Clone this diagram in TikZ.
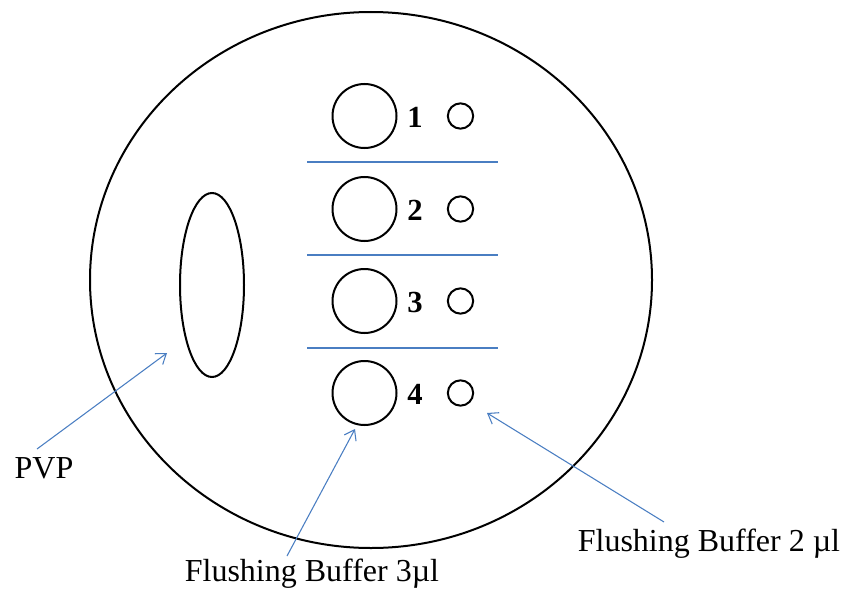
\documentclass[tikz,border=0pt]{standalone}
\usepackage{fontspec}
\setmainfont{Liberation Serif}
\usetikzlibrary{arrows.meta,shapes.geometric}
\definecolor{lineblue}{HTML}{4A7EC2}
\begin{document}
\begin{tikzpicture}[x=0.75pt,y=-0.75pt,
  outline/.style={draw=black,line width=1.5pt},
  well/.style={outline,circle,minimum size=48pt,inner sep=0pt},
  port/.style={outline,circle,minimum size=19pt,inner sep=0pt},
  oval/.style={outline,ellipse,inner sep=0pt},
  num/.style={font=\fontsize{23}{25}\selectfont\bfseries},
  lbl/.style={font=\fontsize{24}{27}\selectfont},
  divider/.style={draw=lineblue,line width=0.8pt},
  pointer/.style={draw=lineblue,line width=0.8pt,-{Straight Barb[length=7pt,width=10pt]}}]
\useasboundingbox (0,0) rectangle (842,592);

% outer disc and PVP reservoir
\node[oval,minimum width=421.5pt,minimum height=402pt] (dish) at (371,280) {};
\node[oval,minimum width=48pt,minimum height=138pt] (pvpres) at (212,285) {};

% four chambers: large well, number, small port
\foreach \i/\y in {1/116,2/209,3/301,4/393}{
  \node[well] (w\i) at (364.5,\y) {};
  \node[num] (n\i) at (415,\y+1) {\i};
  \node[port] (p\i) at (460.5,\y) {};
}

% separators between chambers
\foreach \k/\y in {a/162,b/255,c/348}{
  \coordinate (\k l) at (307,\y);
  \coordinate (\k r) at (498,\y);
  \draw[divider] (\k l) -- (\k r);
}

% labels
\node[lbl] (pvp) at (44,468) {PVP};
\node[lbl] (fb3) at (312,574) {Flushing Buffer 3µl};
\node[lbl] (fb2) at (709,544) {Flushing Buffer 2 µl};

% pointers
\coordinate (pvptail) at (37,449);
\coordinate (pvptip) at (167,353);
\coordinate (fb3tail) at (287,556);
\coordinate (fb3tip) at (355,429);
\coordinate (fb2tail) at (664,522);
\coordinate (fb2tip) at (487,413);
\draw[pointer] (pvptail) -- (pvptip);
\draw[pointer] (fb3tail) -- (fb3tip);
\draw[pointer] (fb2tail) -- (fb2tip);
\end{tikzpicture}
\end{document}
